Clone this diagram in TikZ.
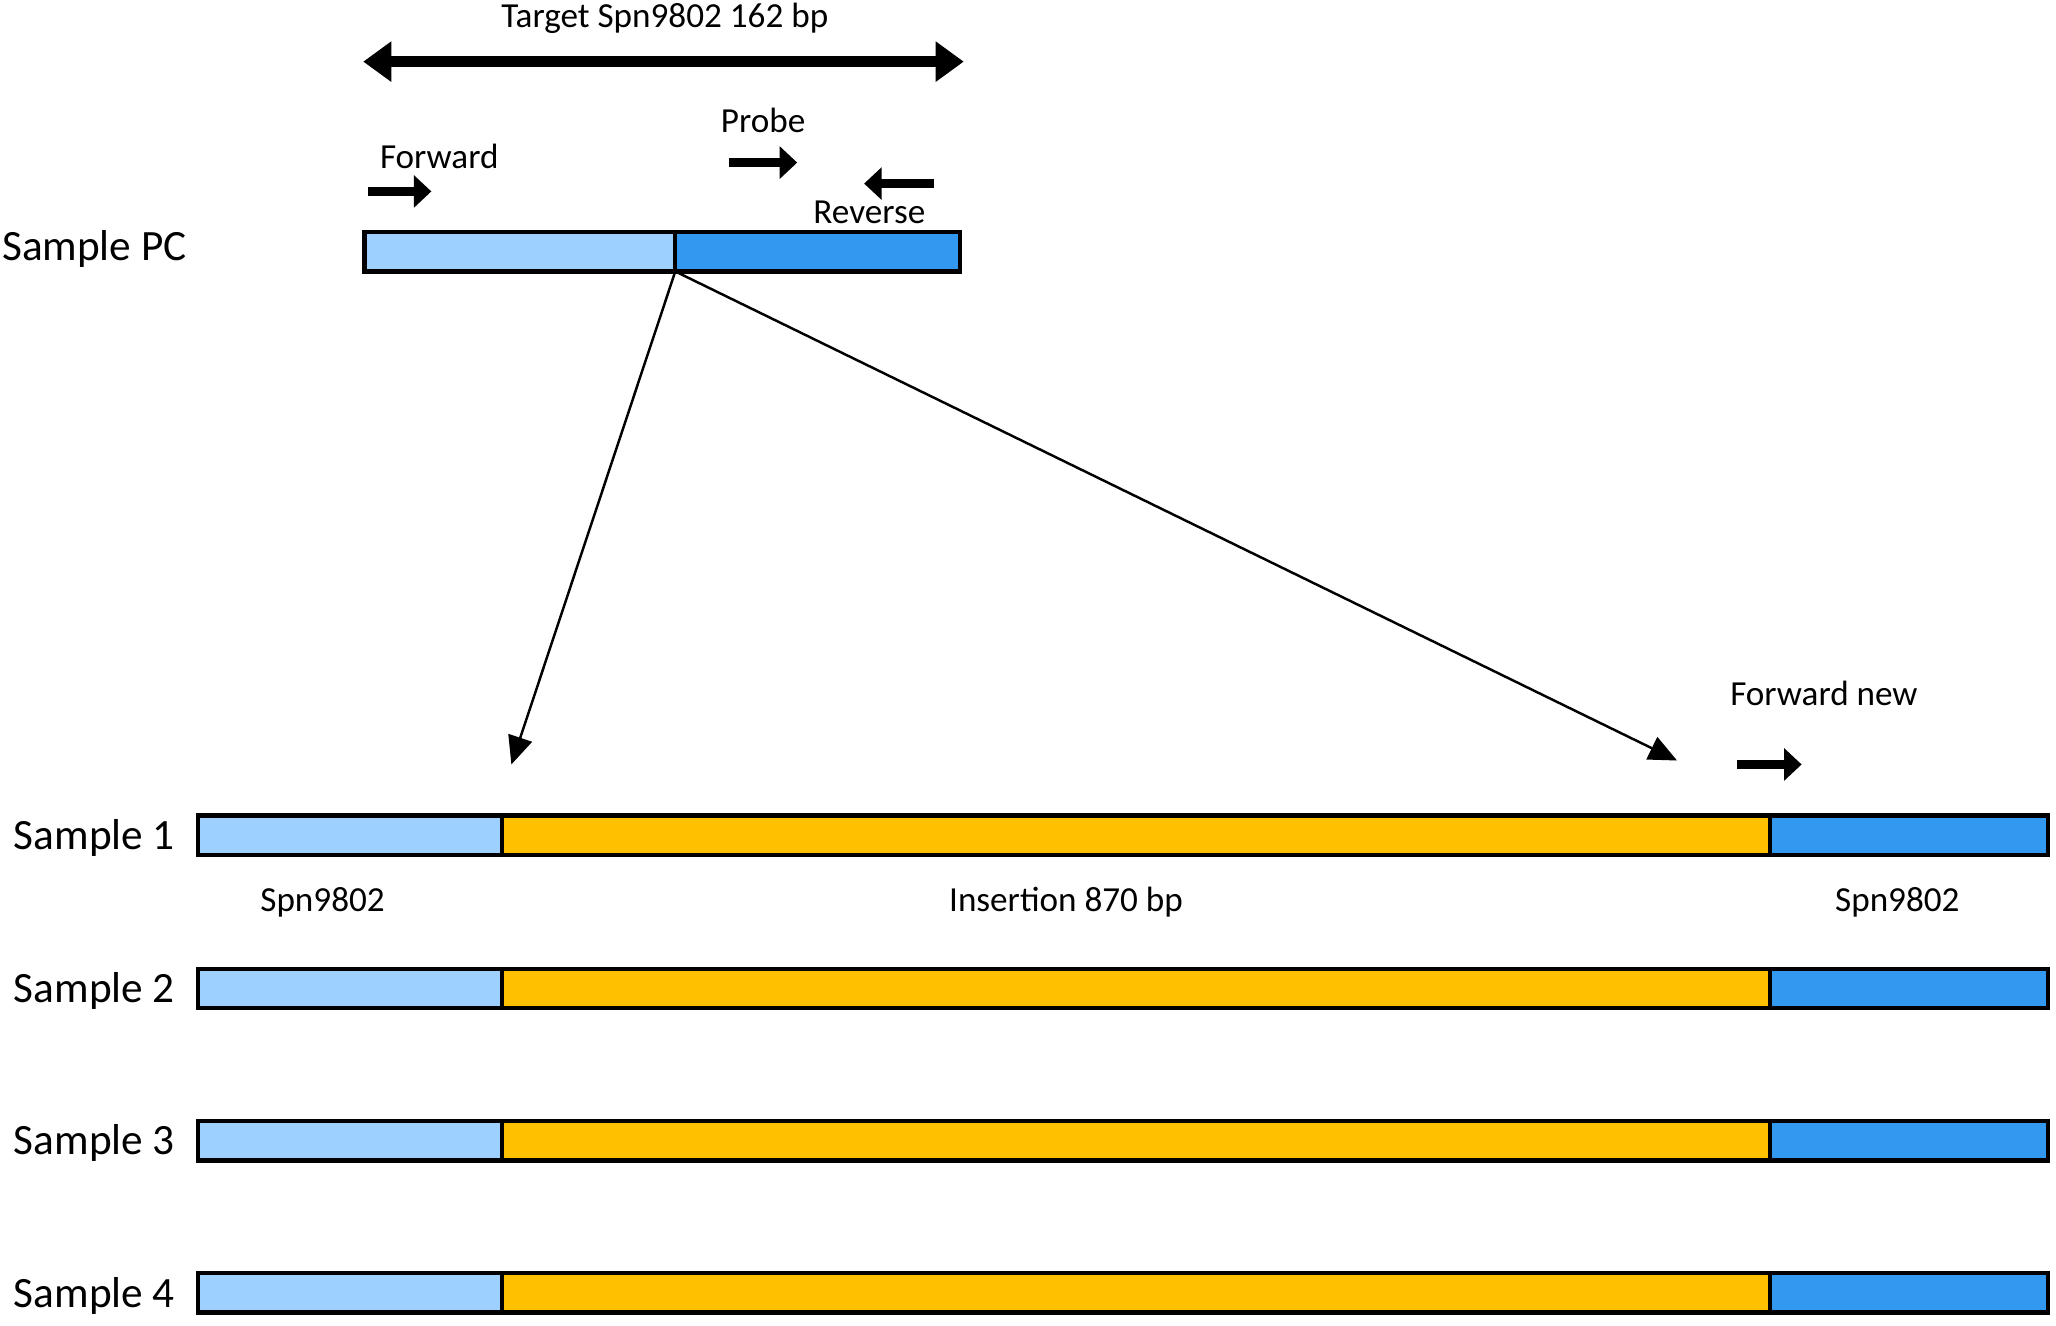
\documentclass[tikz,border=0pt]{standalone}
\usepackage{fontspec}
\setmainfont{Carlito}
\usetikzlibrary{arrows.meta}
\definecolor{light}{HTML}{9DCFFF}
\definecolor{dark}{HTML}{3399F0}
\definecolor{ins}{HTML}{FFC000}
\tikzset{
  primer/.style={line width=2.6pt, -{Triangle[length=5pt,width=9pt]}},
  lbl/.style={font=\fontsize{10}{12}\selectfont},
  slbl/.style={font=\fontsize{12.3}{14}\selectfont}
}
\newcommand{\samplebar}[3]{% name, top y, label
  \path[fill=light,draw=black,line width=1.2pt] (151,#2) rectangle (383,#2+30);
  \path[fill=ins,draw=black,line width=1.2pt] (383,#2) rectangle (1350,#2+30);
  \path[fill=dark,draw=black,line width=1.2pt] (1350,#2) rectangle (1562,#2+30);
  \node[slbl] (#1) at (72,#2+17) {#3};
}
\begin{document}
\begin{tikzpicture}[x=0.0131cm,y=-0.0131cm]
    \useasboundingbox (0,0) rectangle (1568,1011);
    % target
    \node[lbl] (target) at (507,14) {Target Spn9802 162 bp};
    \coordinate (tl) at (277,47);
    \coordinate (tr) at (735,47);
    \draw[line width=3pt, {Triangle[length=8pt,width=11pt]}-{Triangle[length=8pt,width=11pt]}] (tl) -- (tr);
    % primers
    \node[lbl] (fwd) at (335,119) {Forward};
    \coordinate (f1) at (281,146); \coordinate (f2) at (329,146);
    \draw[primer] (f1) -- (f2);
    \node[lbl] (probe) at (582,92) {Probe};
    \coordinate (p1) at (556,124); \coordinate (p2) at (608,124);
    \draw[primer] (p1) -- (p2);
    \node[lbl] (rev) at (663,162) {Reverse};
    \coordinate (r1) at (712,140); \coordinate (r2) at (659,140);
    \draw[primer] (r1) -- (r2);
    % sample PC
    \node[slbl] (pc) at (72,190) {Sample PC};
    \path[fill=light,draw=black,line width=1.2pt] (278,177) rectangle (515,207);
    \path[fill=dark,draw=black,line width=1.2pt] (515,177) rectangle (732,207);
    \coordinate (split) at (515,207);
    \coordinate (e1) at (390,583);
    \coordinate (e2) at (1279,580);
    \draw[line width=0.7pt, -{Triangle[length=8pt,width=7pt]}] (split) -- (e1);
    \draw[line width=0.7pt, -{Triangle[length=8pt,width=7pt]}] (split) -- (e2);
    % new primer
    \node[lbl] (fnew) at (1391,529) {Forward new};
    \coordinate (n1) at (1325,583); \coordinate (n2) at (1374,583);
    \draw[primer] (n1) -- (n2);
    % samples
    \samplebar{s1}{622}{Sample 1}
    \samplebar{s2}{739}{Sample 2}
    \samplebar{s3}{855}{Sample 3}
    \samplebar{s4}{971}{Sample 4}
    \node[lbl] (spl) at (246,688) {Spn9802};
    \node[lbl] (insl) at (813,688) {Insertion 870 bp};
    \node[lbl] (spr) at (1447,688) {Spn9802};
\end{tikzpicture}
\end{document}
